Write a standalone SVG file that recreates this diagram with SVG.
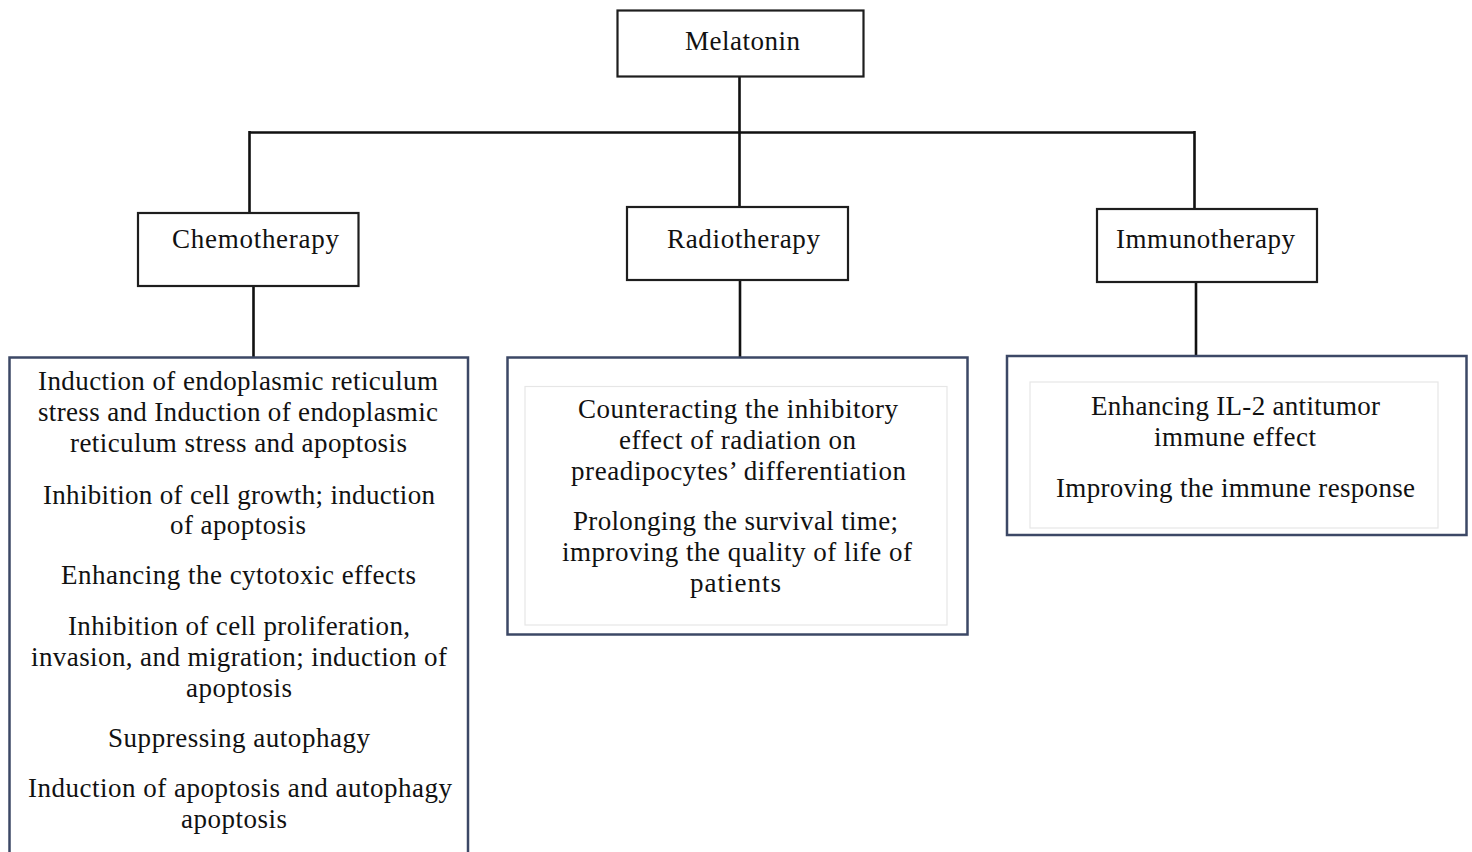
<svg xmlns="http://www.w3.org/2000/svg" width="1472" height="852" viewBox="0 0 1472 852">
<style>
.hb{fill:#fff;stroke:#1e1e1e;stroke-width:2.2}
.rb{fill:#fff;stroke:#3c4866;stroke-width:2.5}
.ib{fill:#fff;stroke:#e6e6e6;stroke-width:1.2}
.t{font-family:"Liberation Serif","Times New Roman",serif;font-size:27px;fill:#111}
.c{fill:none;stroke:#111;stroke-width:2.6}
</style>
<rect width="1472" height="852" fill="#fff"/>
<g id="connectors">
<path class="c" d="M739.5 76V132.5M249.5 132.5H1194.5M249.5 131V213M739.5 131V207M1194.5 131V209"/>
<path class="c" d="M253.5 286V357M740 280V357M1196 282V355"/>
</g>
<g id="melatonin">
<rect class="hb" x="617.5" y="10.5" width="246" height="66"/>
<text class="t" x="685" y="50" textLength="115" lengthAdjust="spacing">Melatonin</text>
</g>
<g id="chemotherapy">
<rect class="hb" x="138" y="213" width="220.5" height="73"/>
<text class="t" x="172" y="248" textLength="167" lengthAdjust="spacing">Chemotherapy</text>
</g>
<g id="radiotherapy">
<rect class="hb" x="627" y="207" width="221" height="73"/>
<text class="t" x="667" y="248" textLength="153" lengthAdjust="spacing">Radiotherapy</text>
</g>
<g id="immunotherapy">
<rect class="hb" x="1097" y="209" width="220" height="73"/>
<text class="t" x="1116" y="248" textLength="179" lengthAdjust="spacing">Immunotherapy</text>
</g>
<g id="chemo-effects">
<rect class="rb" x="9.5" y="357.5" width="458.5" height="510"/>
<text class="t" x="38" y="390" textLength="400" lengthAdjust="spacing">Induction of endoplasmic reticulum</text>
<text class="t" x="38" y="421" textLength="400" lengthAdjust="spacing">stress and Induction of endoplasmic</text>
<text class="t" x="70" y="452" textLength="337" lengthAdjust="spacing">reticulum stress and apoptosis</text>
<text class="t" x="43" y="504" textLength="392" lengthAdjust="spacing">Inhibition of cell growth; induction</text>
<text class="t" x="170" y="534" textLength="136" lengthAdjust="spacing">of apoptosis</text>
<text class="t" x="61" y="584" textLength="355" lengthAdjust="spacing">Enhancing the cytotoxic effects</text>
<text class="t" x="68" y="635" textLength="342" lengthAdjust="spacing">Inhibition of cell proliferation,</text>
<text class="t" x="31" y="666" textLength="416" lengthAdjust="spacing">invasion, and migration; induction of</text>
<text class="t" x="186" y="697" textLength="106" lengthAdjust="spacing">apoptosis</text>
<text class="t" x="108" y="747" textLength="262" lengthAdjust="spacing">Suppressing autophagy</text>
<text class="t" x="28" y="797" textLength="424" lengthAdjust="spacing">Induction of apoptosis and autophagy</text>
<text class="t" x="181" y="828" textLength="106" lengthAdjust="spacing">apoptosis</text>
</g>
<g id="radio-effects">
<rect class="rb" x="507.5" y="357.5" width="460" height="277"/>
<rect class="ib" x="525" y="386.5" width="422" height="238.5"/>
<text class="t" x="578" y="418" textLength="320" lengthAdjust="spacing">Counteracting the inhibitory</text>
<text class="t" x="619" y="449" textLength="237" lengthAdjust="spacing">effect of radiation on</text>
<text class="t" x="571" y="480" textLength="335" lengthAdjust="spacing">preadipocytes’ differentiation</text>
<text class="t" x="573" y="530" textLength="325" lengthAdjust="spacing">Prolonging the survival time;</text>
<text class="t" x="562" y="561" textLength="350" lengthAdjust="spacing">improving the quality of life of</text>
<text class="t" x="690" y="592" textLength="91" lengthAdjust="spacing">patients</text>
</g>
<g id="immuno-effects">
<rect class="rb" x="1007" y="356" width="459.5" height="179"/>
<rect class="ib" x="1030" y="382" width="408" height="146"/>
<text class="t" x="1091" y="415" textLength="289" lengthAdjust="spacing">Enhancing IL-2 antitumor</text>
<text class="t" x="1154" y="446" textLength="162" lengthAdjust="spacing">immune effect</text>
<text class="t" x="1056" y="497" textLength="359" lengthAdjust="spacing">Improving the immune response</text>
</g>
</svg>
